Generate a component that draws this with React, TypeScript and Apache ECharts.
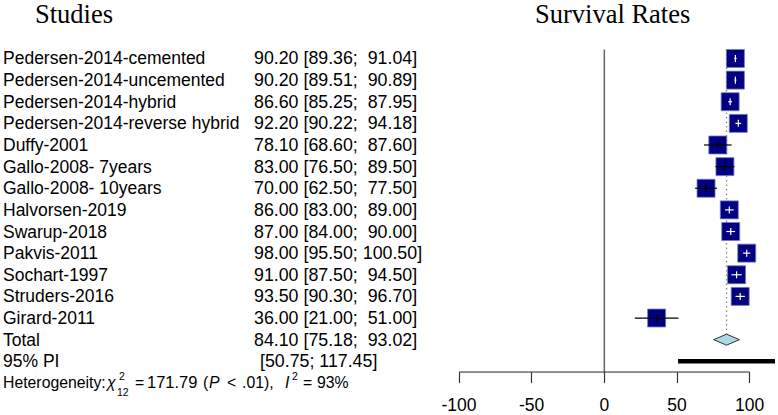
import React, { useEffect, useRef } from "react";
import * as echarts from "echarts";

const studies = [
  "Pedersen-2014-cemented",
  "Pedersen-2014-uncemented",
  "Pedersen-2014-hybrid",
  "Pedersen-2014-reverse hybrid",
  "Duffy-2001",
  "Gallo-2008- 7years",
  "Gallo-2008- 10years",
  "Halvorsen-2019",
  "Swarup-2018",
  "Pakvis-2011",
  "Sochart-1997",
  "Struders-2016",
  "Girard-2011",
];
const estimates = [90.2, 90.2, 86.6, 92.2, 78.1, 83.0, 70.0, 86.0, 87.0, 98.0, 91.0, 93.5, 36.0];
const lowers = [89.36, 89.51, 85.25, 90.22, 68.6, 76.5, 62.5, 83.0, 84.0, 95.5, 87.5, 90.3, 21.0];
const uppers = [91.04, 90.89, 87.95, 94.18, 87.6, 89.5, 77.5, 89.0, 90.0, 100.5, 94.5, 96.7, 51.0];
const totalLabel = "Total";
const totalValues = [84.1, 75.18, 93.02]; // estimate, lower, upper
const piLabel = "95% PI";
const predictionInterval = [50.75, 117.45];
const xTicks = [-100, -50, 0, 50, 100];
const chi2 = "171.79";
const chiDf = "12";
const pText = ".01),";
const i2Text = "93%";

const SANS = '"Liberation Sans", Arial, sans-serif';
const SERIF = '"Liberation Serif", "Times New Roman", serif';
const BOX = 18;
const Y_MIN = -0.42;
const Y_MAX = 14.5;

function fmt(v: number) {
  return v.toFixed(2);
}
function ciText(est: number, lo: number, hi: number) {
  const hiStr = hi >= 100 ? " " + fmt(hi) : "\u00A0 " + fmt(hi);
  return fmt(est) + " [" + fmt(lo) + ";" + hiStr + "]";
}

export default function App() {
  const ref = useRef<HTMLDivElement>(null);
  useEffect(() => {
    if (!ref.current) return;
    const chart = echarts.init(ref.current, undefined, { renderer: "svg" });
    const n = studies.length;
    const totalRow = n;
    const piRow = n + 1;
    const axisRow = Y_MAX;

    const option: any = {
      animation: false,
      grid: { left: 459, width: 316, top: 49.4, height: 322.7 },
      xAxis: {
        type: "value",
        min: -100,
        max: predictionInterval[1],
        axisLine: { show: false, onZero: false },
        splitLine: { show: false },
        axisTick: {
          show: true,
          customValues: xTicks,
          length: 11,
          lineStyle: { color: "#333", width: 1.2 },
        },
        axisLabel: {
          customValues: xTicks,
          margin: 24,
          fontSize: 17.5,
          color: "#000",
          fontFamily: SANS,
        },
      },
      yAxis: {
        type: "value",
        inverse: true,
        min: Y_MIN,
        max: Y_MAX,
        show: false,
      },
      series: [
        {
          type: "line",
          data: [
            [0, Y_MIN],
            [0, axisRow],
          ],
          symbol: "none",
          lineStyle: { color: "#666", width: 1.5 },
          z: 1,
        },
        {
          type: "line",
          data: [
            [xTicks[0], axisRow],
            [xTicks[xTicks.length - 1], axisRow],
          ],
          symbol: "none",
          lineStyle: { color: "#333", width: 1.2 },
          z: 1,
        },
        {
          type: "line",
          data: [
            [totalValues[0], Y_MIN],
            [totalValues[0], totalRow],
          ],
          symbol: "none",
          lineStyle: { color: "#888", width: 1.3, type: [1.5, 3] },
          z: 1,
        },
        {
          type: "scatter",
          data: estimates.map((e, i) => [e, i]),
          symbol: "rect",
          symbolSize: BOX,
          itemStyle: { color: "#000080", opacity: 1, borderColor: "#7a7ac8", borderWidth: 0.8 },
          z: 2,
        },
        {
          type: "custom",
          data: estimates.map((e, i) => [lowers[i], uppers[i], e, i]),
          encode: { x: [0, 1, 2], y: 3 },
          z: 3,
          clip: false,
          renderItem: (_p: any, api: any) => {
            const y = api.value(3);
            const lo = api.coord([api.value(0), y]);
            const hi = api.coord([api.value(1), y]);
            const c = api.coord([api.value(2), y]);
            const inside = hi[0] - lo[0] < BOX;
            const color = inside ? "#ffffff" : "#000000";
            return {
              type: "group",
              children: [
                {
                  type: "line",
                  shape: { x1: lo[0], y1: lo[1], x2: hi[0], y2: hi[1] },
                  style: { stroke: color, lineWidth: 1.2 },
                },
                {
                  type: "line",
                  shape: { x1: c[0], y1: c[1] - 3.5, x2: c[0], y2: c[1] + 3.5 },
                  style: { stroke: color, lineWidth: 1.2 },
                },
              ],
            };
          },
        },
        {
          type: "custom",
          data: [[totalValues[0], totalValues[1], totalValues[2], totalRow]],
          encode: { x: [0, 1, 2], y: 3 },
          z: 4,
          clip: false,
          renderItem: (_p: any, api: any) => {
            const y = api.value(3);
            const c = api.coord([api.value(0), y]);
            const lo = api.coord([api.value(1), y]);
            const hi = api.coord([api.value(2), y]);
            const h = 5.5;
            return {
              type: "polygon",
              shape: {
                points: [
                  [lo[0], lo[1]],
                  [c[0], c[1] - h],
                  [hi[0], hi[1]],
                  [c[0], c[1] + h],
                ],
              },
              style: { fill: "#add8e6", stroke: "#333", lineWidth: 1 },
            };
          },
        },
        {
          type: "line",
          data: [
            [predictionInterval[0], piRow],
            [predictionInterval[1], piRow],
          ],
          symbol: "none",
          clip: false,
          lineStyle: { color: "#000", width: 4.5, cap: "butt" },
          z: 4,
        },
      ],
    };
    chart.setOption(option);

    const rowY = (i: number) => chart.convertToPixel({ yAxisIndex: 0 }, i) as number;
    const txt = (
      text: string,
      x: number,
      y: number,
      size: number,
      family = SANS,
      italic = false
    ) => ({
      type: "text",
      x,
      y,
      silent: true,
      style: {
        text,
        fill: "#000",
        fontSize: size,
        fontFamily: family,
        fontStyle: italic ? "italic" : "normal",
        align: "left",
        verticalAlign: "middle",
        textAlign: "left",
        textVerticalAlign: "middle",
      },
    });

    const FS = 17.5;
    const VX = 254;
    const VFS = 17.8;
    const graphics: any[] = [];
    graphics.push(txt("Studies", 35, 14, 26.5, SERIF));
    graphics.push(txt("Survival Rates", 535, 14, 26.5, SERIF));
    studies.forEach((s, i) => {
      graphics.push(txt(s, 3, rowY(i), FS));
      graphics.push(txt(ciText(estimates[i], lowers[i], uppers[i]), VX, rowY(i), VFS));
    });
    graphics.push(txt(totalLabel, 3, rowY(totalRow), FS));
    graphics.push(txt(ciText(totalValues[0], totalValues[1], totalValues[2]), VX, rowY(totalRow), VFS));
    graphics.push(txt(piLabel, 3, rowY(piRow), FS));
    graphics.push(
      txt("[" + fmt(predictionInterval[0]) + "; " + fmt(predictionInterval[1]) + "]", 260, rowY(piRow), VFS)
    );

    // heterogeneity line (plotmath-like layout)
    const hy = rowY(piRow + 1) - 0.5;
    const fs = 15.8;
    const small = 10.5;
    graphics.push(txt("Heterogeneity:", 3, hy, fs));
    graphics.push(txt("\u03C7", 107, hy, fs, SANS, true));
    graphics.push(txt("2", 119, hy - 6, small));
    graphics.push(txt(chiDf, 117, hy + 10, small));
    graphics.push(txt("=", 135, hy, fs));
    graphics.push(txt(chi2, 147, hy, 16.5));
    graphics.push(txt("(", 203, hy, fs));
    graphics.push(txt("P", 209, hy, fs, SANS, true));
    graphics.push(txt("<", 227, hy, fs));
    graphics.push(txt(pText, 242, hy, fs));
    graphics.push(txt("I", 285, hy, fs, SANS, true));
    graphics.push(txt("2", 292, hy - 6, small));
    graphics.push(txt("=", 303, hy, fs));
    graphics.push(txt(i2Text, 317, hy, fs));

    chart.setOption({ graphic: graphics });

    return () => chart.dispose();
  }, []);
  return (
    <div
      ref={ref}
      style={{ position: "fixed", left: 0, top: 0, width: 778, height: 415, background: "#fff" }}
    />
  );
}
